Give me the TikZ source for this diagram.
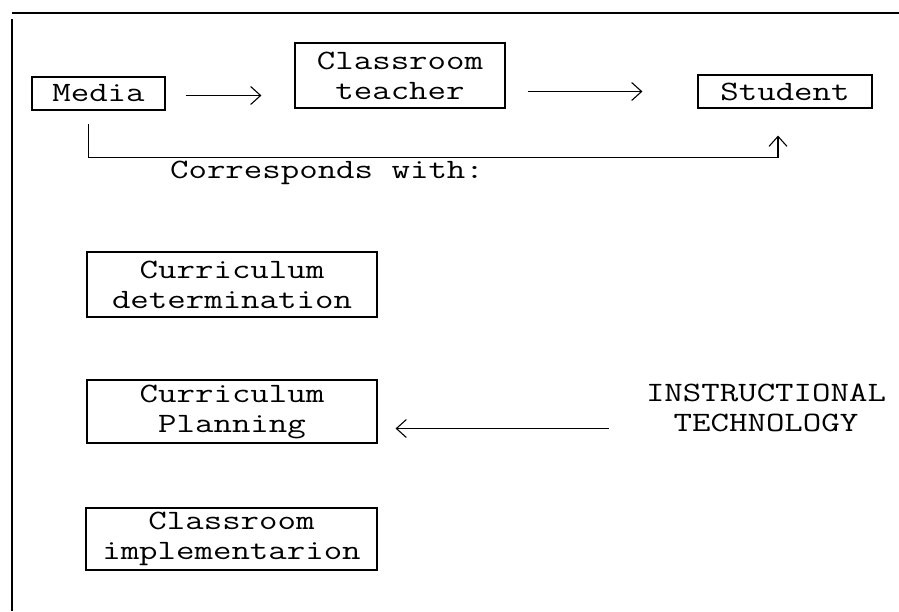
\documentclass[tikz,border=0pt]{standalone}
\usepackage{fontspec}
\setmonofont{Latin Modern Mono}[FakeStretch=1.28]
\usetikzlibrary{arrows.meta}
\tikzset{
  stage/.style={draw,line width=1.1pt,align=center,inner sep=2pt},
  flow/.style={->,line width=1.1pt},
}
\begin{document}
\begin{tikzpicture}[x=1pt,y=-1pt,>={Straight Barb[length=10pt,width=18pt]},
  font=\ttfamily\fontsize{28}{30}\selectfont]
\useasboundingbox (0,0) rectangle (899,611);
% frame of the page
\draw[line width=1.5pt] (12,13) -- (899,13);
\draw[line width=1.2pt] (12,19) -- (12,611);
% upper chain
\node[stage,minimum width=133pt,minimum height=33pt] (media) at (98.5,93.5) {Media};
\node[stage,minimum width=210pt,minimum height=65pt] (teacher) at (400,75.5) {Classroom\\teacher};
\node[stage,minimum width=174pt,minimum height=33pt] (student) at (785,91.5) {Student};
\draw[flow,shorten <=20pt,shorten >=33pt] ([yshift=-2pt]media.east) -- ([yshift=-2pt]media.east -| teacher.west);
\draw[flow,shorten <=22pt,shorten >=55pt] (teacher.east |- student) -- (student);
\draw[flow] ([xshift=-10pt,yshift=-13pt]media.south) -- ++(0,34)
  -| ([xshift=-7pt,yshift=-27pt]student.south);
\node (corresp) at (327,173) {Corresponds with:};
% curriculum column
\node[stage,minimum width=290pt,minimum height=65pt] (determ) at (232,284.5) {Curriculum\\determination};
\node[stage,minimum width=290pt,minimum height=63pt] (planning) at (232,411.5) {Curriculum\\Planning};
\node[stage,minimum width=291pt,minimum height=62pt] (implement) at (231.5,539) {Classroom\\implementarion};
\node[align=center] (instr) at (766,408) {INSTRUCTIONAL\\TECHNOLOGY};
\draw[flow,shorten <=34pt,shorten >=18pt] ([yshift=-17pt]instr.west |- planning.east) -- ([yshift=-17pt]planning.east);
\end{tikzpicture}
\end{document}
